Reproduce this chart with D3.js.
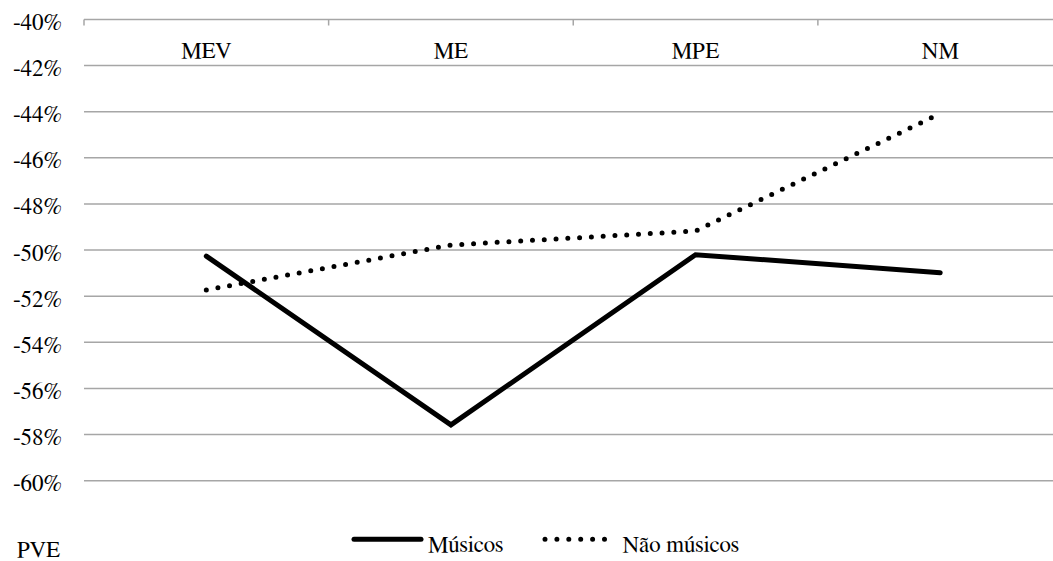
<!DOCTYPE html>
<html>
<head>
<meta charset="utf-8">
<script src="https://cdn.jsdelivr.net/npm/d3@7"></script>
<style>
  html, body { margin: 0; padding: 0; background: #fff; }
  svg { display: block; }
</style>
</head>
<body>
<svg id="chart" width="1053" height="561"></svg>
<script>
// Categories and series (values in %)
const categories = ["MEV", "ME", "MPE", "NM"];
const musicos = [-50.26, -57.58, -50.2, -50.98];
const naoMusicos = [-51.73, -49.78, -49.17, -44.08];
const yTicks = [-40, -42, -44, -46, -48, -50, -52, -54, -56, -58, -60];
const seriesNames = ["Músicos", "Não músicos"];

const serif = "'FreeSerif', 'Liberation Serif', serif";
const fontSize = 23;
const svg = d3.select("#chart");

const x = d3.scaleBand().domain(categories).range([84, 1062.5]).padding(0);
const y = d3.scaleLinear().domain([-60, -40]).range([480.7, 19.5]);

const gridColor = "#a6a6a6";

// Horizontal gridlines
svg.append("g")
  .selectAll("line")
  .data(yTicks.filter(d => d !== -40))
  .join("line")
  .attr("x1", 84).attr("x2", 1062.5)
  .attr("y1", d => y(d)).attr("y2", d => y(d))
  .attr("stroke", gridColor).attr("stroke-width", 1.5);

// Y axis labels
const yAxis = svg.append("g")
  .attr("transform", "translate(84,0)")
  .call(d3.axisLeft(y).tickValues(yTicks).tickFormat(d => d + "%").tickSize(0).tickPadding(22));
yAxis.select(".domain").remove();
yAxis.attr("font-family", null).attr("font-size", null);
yAxis.selectAll("text")
  .attr("fill", "#000")
  .attr("font-family", serif)
  .attr("font-size", fontSize)
  .attr("dy", 10);

// Category axis along the top (-40%) with ticks at band boundaries
const xAxis = svg.append("g").attr("transform", `translate(0,${y(-40)})`);
xAxis.append("line")
  .attr("x1", 84).attr("x2", 1062.5)
  .attr("stroke", gridColor).attr("stroke-width", 1.5);
const boundaries = categories.map(c => x(c));
xAxis.selectAll("line.tick")
  .data(boundaries)
  .join("line")
  .attr("class", "tick")
  .attr("x1", d => d).attr("x2", d => d)
  .attr("y1", 0).attr("y2", 6)
  .attr("stroke", gridColor).attr("stroke-width", 1.5);
xAxis.selectAll("text")
  .data(categories)
  .join("text")
  .attr("x", d => x(d) + x.bandwidth() / 2)
  .attr("y", 38.8)
  .attr("text-anchor", "middle")
  .attr("font-family", serif)
  .attr("font-size", fontSize)
  .text(d => d);

const line = d3.line()
  .x((d, i) => x(categories[i]) + x.bandwidth() / 2)
  .y(d => y(d));

// Não músicos (dotted)
svg.append("path")
  .datum(naoMusicos)
  .attr("d", line)
  .attr("fill", "none")
  .attr("stroke", "#000")
  .attr("stroke-width", 5)
  .attr("stroke-linecap", "round")
  .attr("stroke-dasharray", "0 11.8");

// Músicos (solid)
svg.append("path")
  .datum(musicos)
  .attr("d", line)
  .attr("fill", "none")
  .attr("stroke", "#000")
  .attr("stroke-width", 5)
  .attr("stroke-linejoin", "miter")
  .attr("stroke-linecap", "round");

// Legend
const legend = svg.append("g");
const legendItems = [
  { name: seriesNames[0], x1: 354, x2: 421, tx: 428, dash: null },
  { name: seriesNames[1], x1: 545, x2: 605, tx: 622.5, dash: "0 11.9" }
];
legendItems.forEach(it => {
  legend.append("line")
    .attr("x1", it.x1).attr("x2", it.x2)
    .attr("y1", 539.3).attr("y2", 539.3)
    .attr("stroke", "#000").attr("stroke-width", 5)
    .attr("stroke-linecap", "round")
    .attr("stroke-dasharray", it.dash);
  legend.append("text")
    .attr("x", it.tx).attr("y", 551.5)
    .attr("font-family", serif)
    .attr("font-size", fontSize)
    .text(it.name);
});

// Axis title at bottom left
svg.append("text")
  .attr("x", 17).attr("y", 557)
  .attr("font-family", serif)
  .attr("font-size", fontSize)
  .text("PVE");
</script>
</body>
</html>
